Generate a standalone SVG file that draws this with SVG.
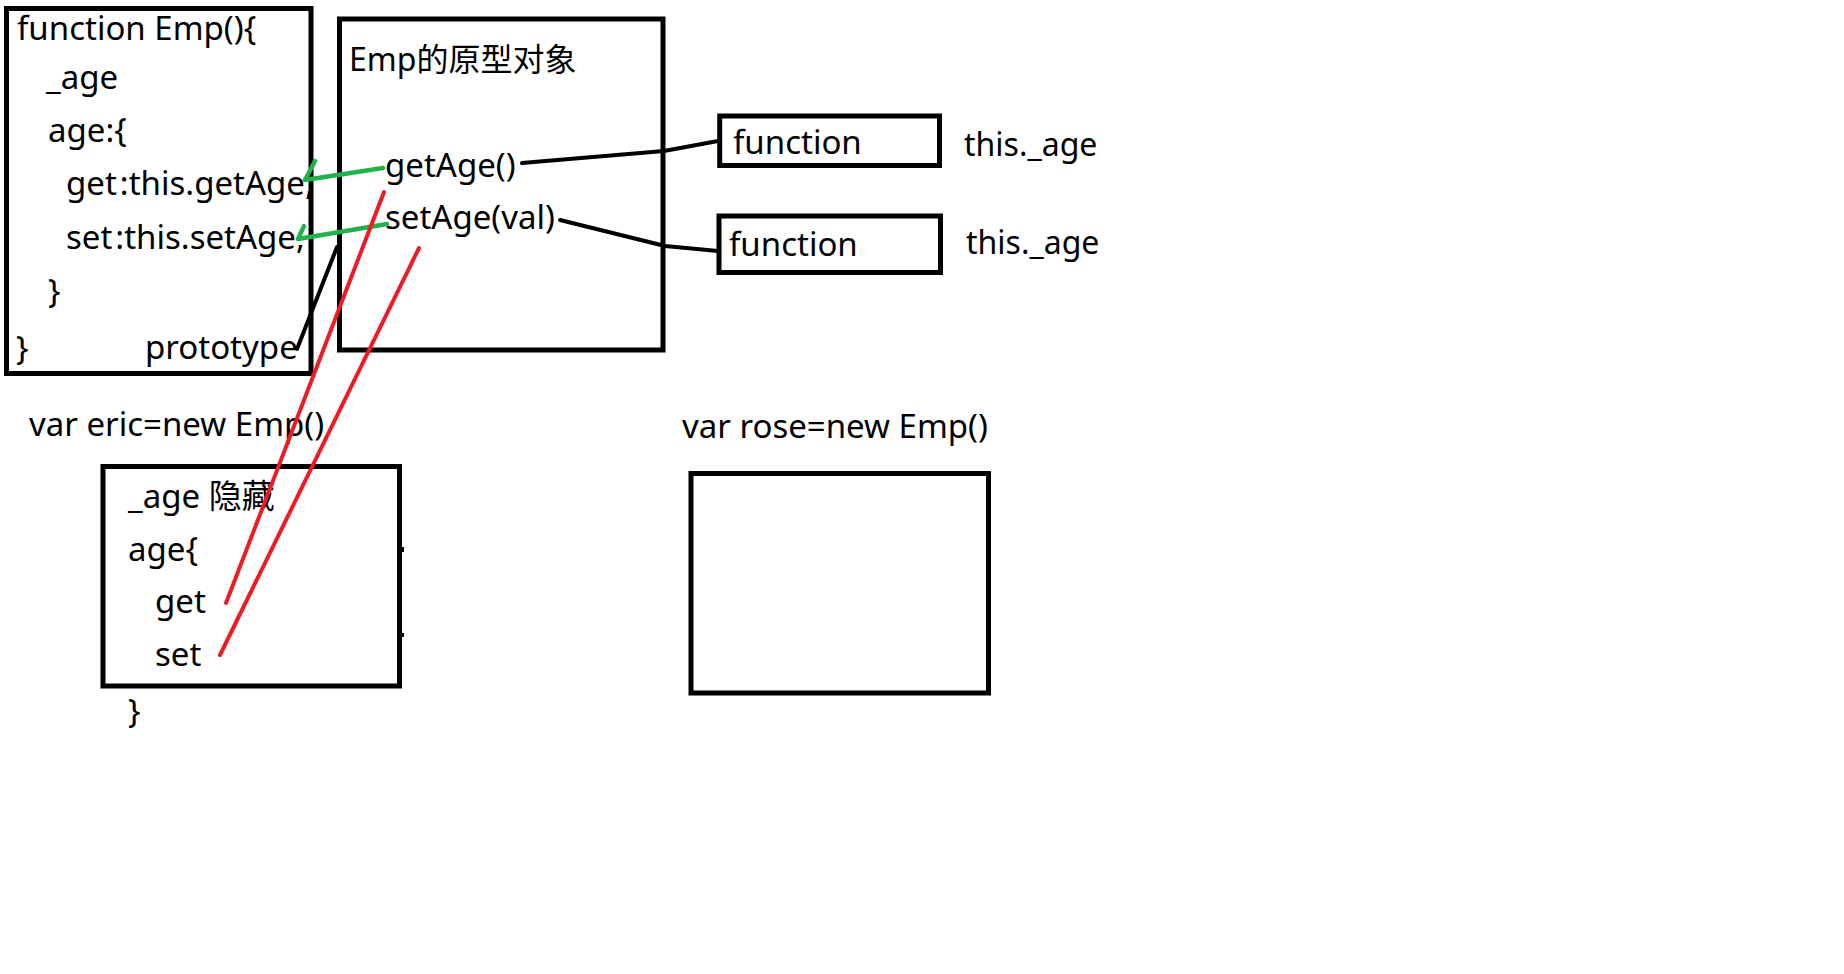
<svg xmlns="http://www.w3.org/2000/svg" width="1844" height="974" viewBox="0 0 1844 974">
<style>
  text { font-family: "Noto Sans", "Noto Sans CJK SC", sans-serif; font-size: 33px; fill: #000; }
  .sm { font-size: 32px; }
  .box { fill: none; stroke: #000; stroke-width: 5; }
  .blk { fill: none; stroke: #000; stroke-width: 4; stroke-linecap: round; stroke-linejoin: round; }
  .grn { fill: none; stroke: #22B14C; stroke-width: 4.5; stroke-linecap: round; stroke-linejoin: round; }
  .red { fill: none; stroke: #ED1C24; stroke-width: 4; stroke-linecap: round; }
</style>
<rect width="1844" height="974" fill="#fff"/>

<g id="emp-constructor">
  <rect class="box" x="6.5" y="8.5" width="304.5" height="365"/>
  <text x="17" y="40">function Emp(){</text>
  <text x="46" y="89">_age</text>
  <text x="48" y="142">age:{</text>
  <text x="66" y="195">get<tspan dx="3">:this.getAge,</tspan></text>
  <text x="66" y="249">set<tspan dx="3">:this.setAge,</tspan></text>
  <text x="48" y="303">}</text>
  <text x="16" y="360">}</text>
  <text x="145" y="359">prototype</text>
</g>

<g id="emp-prototype">
  <rect class="box" x="339.5" y="19" width="323.5" height="331"/>
  <text class="sm" x="349" y="71">Emp的原型对象</text>
  <text x="385" y="177">getAge()</text>
  <text x="385" y="229">setAge(val)</text>
</g>

<g id="function-get">
  <rect class="box" x="719.7" y="116" width="219.8" height="49.5"/>
  <text x="733" y="154">function</text>
</g>
<text id="label-get-this-age" class="sm" x="964" y="156">this._age</text>

<g id="function-set">
  <rect class="box" x="719" y="216" width="221.5" height="56.5"/>
  <text x="729" y="256">function</text>
</g>
<text id="label-set-this-age" class="sm" x="966" y="254">this._age</text>

<g id="eric-label"><text x="29" y="436">var eric=new Emp()</text></g>
<g id="eric-instance">
  <rect class="box" x="103" y="466.5" width="296.5" height="219.5"/>
  <rect x="401" y="547" width="3" height="5" fill="#000"/>
  <rect x="401" y="633" width="3" height="4" fill="#000"/>
  <text x="128" y="508">_age 隐藏</text>
  <text x="128" y="561">age{</text>
  <text x="155" y="613">get</text>
  <text x="155" y="666">set</text>
  <text x="128" y="723">}</text>
</g>

<g id="rose-label"><text x="682" y="438">var rose=new Emp()</text></g>
<g id="rose-instance">
  <rect class="box" x="691" y="473.5" width="297.5" height="219.5"/>
</g>

<g id="connectors">
  <polyline class="blk" points="522,163 664,151 718,141"/>
  <polyline class="blk" points="560,220 665,246 718,251"/>
  <line class="blk" x1="297" y1="349" x2="337" y2="247"/>
  <polyline class="grn" points="383,168 305,180 315,161"/>
  <polyline class="grn" points="387,224 298,239 304,226"/>
  <line class="red" x1="384" y1="192" x2="226" y2="603"/>
  <line class="red" x1="419" y1="248" x2="220" y2="655"/>
</g>
</svg>
